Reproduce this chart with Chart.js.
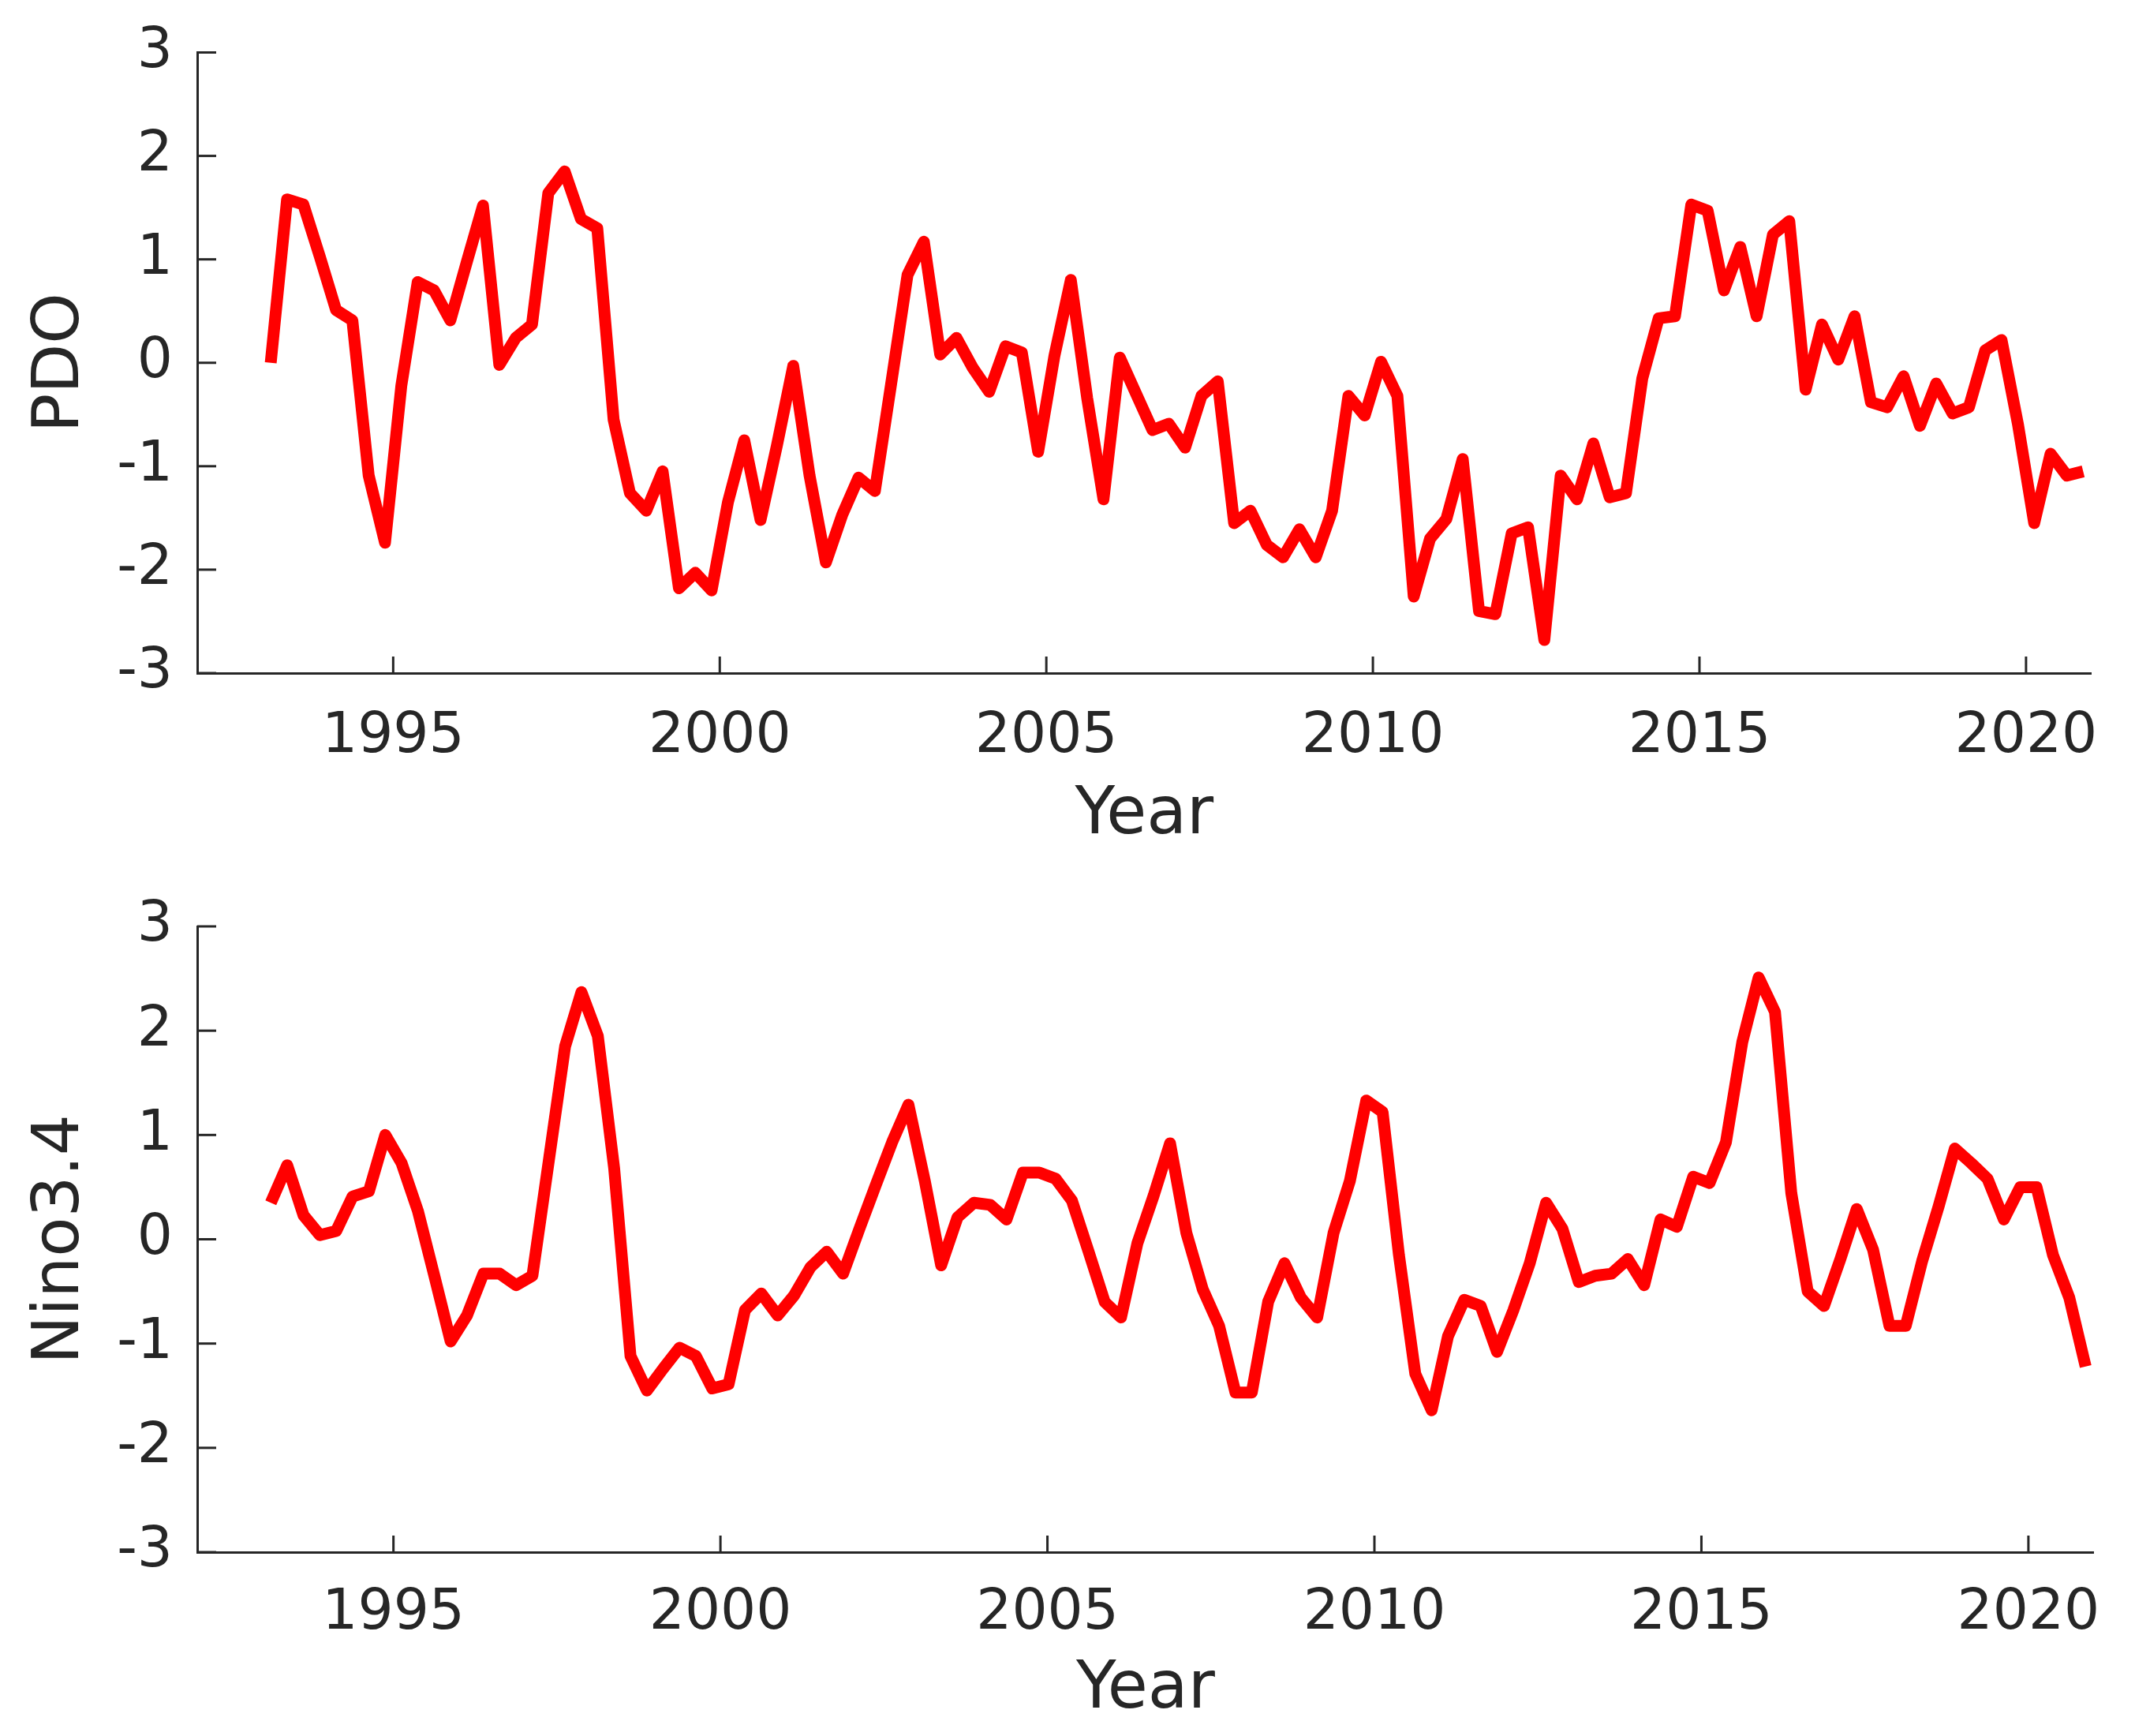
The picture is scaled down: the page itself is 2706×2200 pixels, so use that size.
<!DOCTYPE html>
<html><head><meta charset="utf-8">
<script src="https://cdn.jsdelivr.net/npm/chart.js@4/dist/chart.umd.min.js"></script>
<style>
html,body{margin:0;padding:0;background:#fff;}
#wrap{position:relative;width:2706px;height:2200px;background:#fff;}
canvas{position:absolute;left:0;}
</style></head><body>
<div id="wrap">
<canvas id="c1" width="2706" height="1100" style="top:0;width:2706px;height:1100px"></canvas>
<canvas id="c2" width="2706" height="1100" style="top:1100px;width:2706px;height:1100px"></canvas>
</div>
<script>
// ---- data ----
const years = [1993,1994,1995,1996,1997,1998,1999,2000,2001,2002,2003,2004,2005,2006,
               2007,2008,2009,2010,2011,2012,2013,2014,2015,2016,2017,2018,2019,2020];
const quarterCentres = [0.125, 0.375, 0.625, 0.875];
const xTickYears = [1995, 2000, 2005, 2010, 2015, 2020];
const yTickValues = [-3, -2, -1, 0, 1, 2, 3];

const pdo = [
  0.00, 1.58, 1.53, 1.03,
  0.51, 0.41, -1.09, -1.74,
  -0.22, 0.78, 0.70, 0.41,
  0.97, 1.52, -0.02, 0.24,
  0.37, 1.64, 1.85, 1.39,
  1.30, -0.55, -1.26, -1.43,
  -1.05, -2.18, -2.03, -2.20,
  -1.35, -0.75, -1.52, -0.80,
  -0.03, -1.09, -1.93, -1.47,
  -1.11, -1.24, -0.20, 0.85,
  1.17, 0.08, 0.24, -0.05,
  -0.28, 0.16, 0.10, -0.86,
  0.07, 0.80, -0.34, -1.32,
  0.05, -0.30, -0.65, -0.59,
  -0.82, -0.32, -0.18, -1.55,
  -1.43, -1.76, -1.88, -1.61,
  -1.88, -1.43, -0.32, -0.51,
  0.01, -0.32, -2.26, -1.70,
  -1.51, -0.93, -2.40, -2.43,
  -1.65, -1.59, -2.68, -1.09,
  -1.32, -0.78, -1.30, -1.26,
  -0.15, 0.43, 0.45, 1.53,
  1.47, 0.70, 1.12, 0.45,
  1.24, 1.37, -0.26, 0.37,
  0.03, 0.45, -0.38, -0.43,
  -0.13, -0.61, -0.20, -0.49,
  -0.43, 0.12, 0.22, -0.59,
  -1.55, -0.88, -1.09, -1.05
];

const nino34 = [
  0.35, 0.71, 0.23, 0.04,
  0.08, 0.41, 0.46, 1.00,
  0.73, 0.27, -0.35, -0.98,
  -0.73, -0.33, -0.33, -0.44,
  -0.35, 0.75, 1.85, 2.37,
  1.95, 0.68, -1.12, -1.45,
  -1.24, -1.04, -1.12, -1.43,
  -1.39, -0.68, -0.52, -0.73,
  -0.54, -0.27, -0.12, -0.33,
  0.10, 0.52, 0.93, 1.29,
  0.56, -0.25, 0.21, 0.35,
  0.33, 0.19, 0.64, 0.64,
  0.58, 0.37, -0.11, -0.60,
  -0.75, -0.04, 0.42, 0.92,
  0.06, -0.48, -0.83, -1.47,
  -1.47, -0.60, -0.23, -0.56,
  -0.75, 0.06, 0.56, 1.33,
  1.22, -0.15, -1.29, -1.64,
  -0.93, -0.58, -0.64, -1.08,
  -0.68, -0.23, 0.35, 0.10,
  -0.41, -0.35, -0.33, -0.19,
  -0.44, 0.19, 0.12, 0.60,
  0.54, 0.93, 1.89, 2.51,
  2.18, 0.44, -0.50, -0.64,
  -0.19, 0.29, -0.10, -0.83,
  -0.83, -0.21, 0.31, 0.87,
  0.73, 0.58, 0.19, 0.50,
  0.50, -0.15, -0.56, -1.22
];

// time stamps (centre of each quarter)
const times = [];
years.forEach(y => quarterCentres.forEach(q => times.push(y + q)));

// ---- drawing ----
const FONT = "'DejaVu Sans', 'Liberation Sans', sans-serif";
const AX = '#262626';

const inwardTicks = {
  id: 'inwardTicks',
  afterDraw(chart) {
    const {ctx, chartArea: a, scales: {x, y}} = chart;
    ctx.save();
    ctx.strokeStyle = AX;
    ctx.lineWidth = 3;
    x.ticks.forEach(t => {
      const px = x.getPixelForValue(t.value);
      ctx.beginPath(); ctx.moveTo(px, a.bottom); ctx.lineTo(px, a.bottom - 21); ctx.stroke();
    });
    y.ticks.forEach(t => {
      const py = y.getPixelForValue(t.value);
      ctx.beginPath(); ctx.moveTo(a.left, py); ctx.lineTo(a.left + 24, py); ctx.stroke();
    });
    ctx.restore();
  }
};

function makeChart(id, values, label, cfg) {
  const pts = times.map((t, i) => ({x: t, y: values[i]}));
  const H = 1100, W = 2706;
  return new Chart(document.getElementById(id), {
    type: 'line',
    data: {datasets: [{
      data: pts, borderColor: '#ff0000', borderWidth: 15, pointRadius: 0,
      tension: 0, fill: false, borderJoinStyle: 'round', borderCapStyle: 'butt'
    }]},
    options: {
      responsive: false, animation: false, devicePixelRatio: 1,
      layout: {padding: {left: 0, right: W - 2655, top: cfg.top, bottom: 0}},
      plugins: {legend: {display: false}, tooltip: {enabled: false}},
      scales: {
        x: {
          type: 'linear', min: 1992, max: 2021,
          afterBuildTicks: s => { s.ticks = xTickYears.map(v => ({value: v})); },
          afterFit: s => { s.height = H - cfg.bottom; },
          grid: {display: false, drawTicks: false, tickLength: 0},
          border: {display: true, color: AX, width: 3},
          ticks: {padding: cfg.xPad, color: AX, font: {family: FONT, size: 71, lineHeight: 1},
                  callback: v => String(v), maxRotation: 0, autoSkip: false},
          title: {display: true, text: 'Year', color: AX,
                  font: {family: FONT, size: 83, lineHeight: 1},
                  padding: {top: 0, bottom: cfg.yearPad}}
        },
        y: {
          min: -3, max: 3,
          afterBuildTicks: s => { s.ticks = yTickValues.map(v => ({value: v})); },
          afterFit: s => { s.width = 250; },
          grid: {display: false, drawTicks: false, tickLength: 0},
          border: {display: true, color: AX, width: 3},
          ticks: {padding: 31, color: AX, font: {family: FONT, size: 71, lineHeight: 1},
                  callback: v => String(v)},
          title: {display: true, text: label, color: AX,
                  font: {family: FONT, size: 82, lineHeight: 1},
                  padding: {top: 37, bottom: 0}}
        }
      }
    },
    plugins: [inwardTicks]
  });
}

makeChart('c1', pdo, 'PDO', {top: 60, bottom: 853, xPad: 46, yearPad: 24});
makeChart('c2', nino34, 'Nino3.4', {top: 74, bottom: 867, xPad: 43, yearPad: 16});
</script>
</body></html>
